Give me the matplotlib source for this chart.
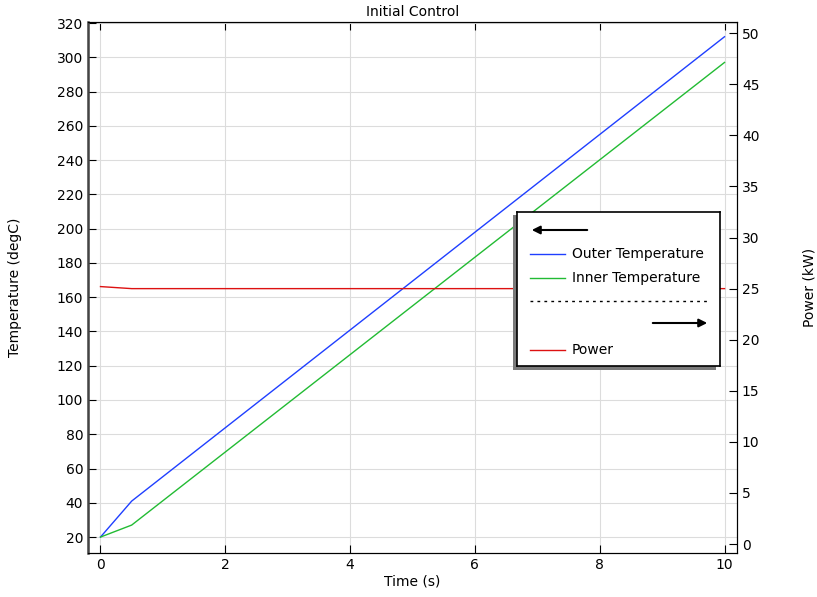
import numpy as np
import matplotlib.pyplot as plt
from matplotlib.patches import Rectangle, FancyArrowPatch

# Simulated time series (s) and results
time_s = [0.0, 0.5, 10.0]
outer_temp = [20.0, 41.0, 312.0]
inner_temp = [20.0, 27.0, 297.0]
power_kw = [25.2, 25.0, 25.0]

temp_ticks = list(range(20, 321, 20))
power_ticks = list(range(0, 51, 5))
time_ticks = [0, 2, 4, 6, 8, 10]

W, H = 817, 597
plt.rcParams['font.family'] = 'DejaVu Sans'
plt.rcParams['font.size'] = 10

fig = plt.figure(figsize=(W / 100, H / 100), dpi=100)
ax = fig.add_axes([88 / W, 1 - 553 / H, (737 - 88) / W, (553 - 22) / H])
ax2 = ax.twinx()

ax.plot(time_s, outer_temp, color='#1f3fff', lw=1.0)
ax.plot(time_s, inner_temp, color='#22bb33', lw=1.0)
ax2.plot(time_s, power_kw, color='#dd1111', lw=1.0)

ax.set_xlim(-0.2, 10.2)
ax.set_ylim(10.7, 320.6)
ax2.set_ylim(-0.88, 51.1)

ax.set_xticks(time_ticks)
ax.set_yticks(temp_ticks)
ax2.set_yticks(power_ticks)

ax.grid(True, color='#dcdcdc', lw=0.8)
ax.set_axisbelow(True)
ax.tick_params(direction='in', length=6, top=True, right=False)
ax2.tick_params(direction='in', length=6)
ax2.spines['left'].set_color('#444444')
ax2.spines['left'].set_linewidth(1.8)

ax.set_title('Initial Control', fontsize=10, pad=4)
ax.set_xlabel('Time (s)', labelpad=2)
ax.set_ylabel('Temperature (degC)', labelpad=25)
ax2.set_ylabel('Power (kW)', labelpad=31)

# Legend panel drawn in pixel coordinates, with drop shadow
fig.patches.append(Rectangle((513 / W, 1 - 370 / H), 203 / W, 155 / H,
                             transform=fig.transFigure, facecolor='#7a7a7a',
                             edgecolor='none', zorder=5))
lax = fig.add_axes([517 / W, 1 - 366 / H, 203 / W, 154 / H], zorder=6)
lax.set_xlim(0, 203)
lax.set_ylim(154, 0)
lax.set_xticks([])
lax.set_yticks([])
for s in lax.spines.values():
    s.set_linewidth(1.2)

lax.add_patch(FancyArrowPatch((73, 18), (12, 18), arrowstyle='-|>',
                              mutation_scale=12, lw=1.5, color='black'))
lax.plot([13, 48], [42, 42], color='#1f3fff', lw=1.0)
lax.text(55, 42, 'Outer Temperature', va='center', ha='left')
lax.plot([13, 48], [66, 66], color='#22bb33', lw=1.0)
lax.text(55, 66, 'Inner Temperature', va='center', ha='left')
lax.plot([13, 193], [89, 89], color='black', lw=1.0, ls=(0, (2, 3)))
lax.add_patch(FancyArrowPatch((133, 111), (193, 111), arrowstyle='-|>',
                              mutation_scale=12, lw=1.5, color='black'))
lax.plot([13, 48], [138, 138], color='#dd1111', lw=1.0)
lax.text(55, 138, 'Power', va='center', ha='left')

fig.savefig('out.png', dpi=100)
